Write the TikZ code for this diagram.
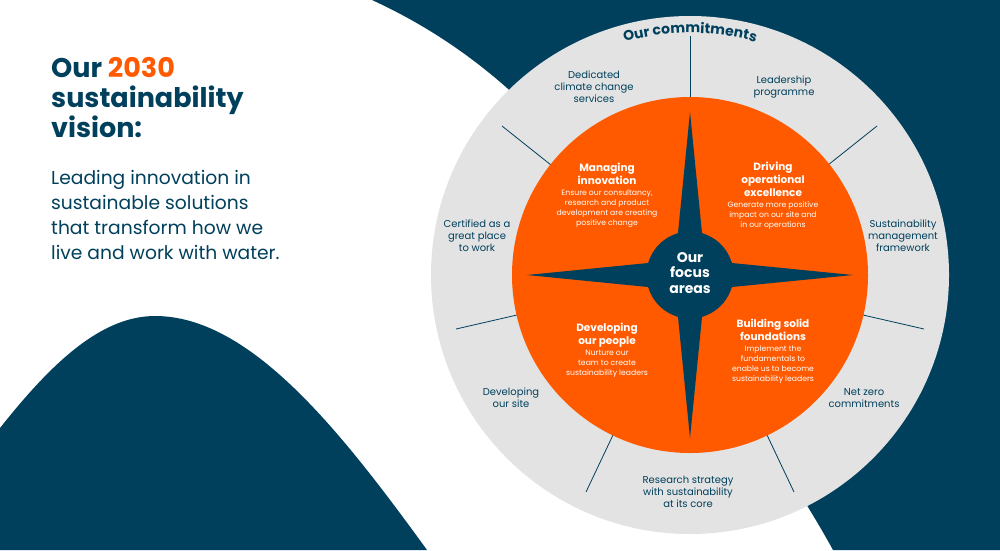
\documentclass[tikz,border=0pt]{standalone}
\usepackage{fontspec}
\setmainfont{Poppins}
\usetikzlibrary{decorations.text}
\definecolor{navy}{HTML}{00405C}
\definecolor{flame}{HTML}{FF5A00}
\definecolor{ring}{HTML}{E3E3E3}
\tikzset{
  ray/.style={draw=navy,line width=0.8pt},
  commit/.style={text=navy,font=\fontsize{10}{12.2}\selectfont,align=center,inner sep=0pt},
  areahead/.style={text=white,font=\fontsize{10.5}{13}\selectfont\bfseries,align=center,inner sep=0pt},
  areabody/.style={text=white,font=\fontsize{7.7}{10}\selectfont,align=center,inner sep=0pt},
}
\begin{document}
\begin{tikzpicture}[x=1pt,y=-1pt]
\useasboundingbox (0,0) rectangle (1000,550);
\fill[white] (0,0) rectangle (1000,550);
% dark backgrounds
\fill[navy] (372,0) .. controls (470,45) and (560,120) .. (640,250) .. controls (700,350) and (785,462) .. (833,550) -- (1000,550) -- (1000,0) -- cycle;
\fill[navy] (0,428) .. controls (50,365) and (100,316) .. (155,316) .. controls (250,316) and (340,430) .. (427,550) -- (0,550) -- cycle;
% rings
\fill[ring] (690,275) circle (259);
\coordinate (c) at (690,275);
\foreach \n/\x/\y in {a/690/97,b/551/165,d/828/165,e/863/315,f/517/315,g/767/435,h/613/435}{\coordinate (in\n) at (\x,\y);}
\foreach \n/\x/\y in {a/690/36,b/502/126,d/877/126,e/924/329,f/456/329,g/794/492,h/586/492}{\coordinate (out\n) at (\x,\y);}
\foreach \n in {a,b,d,e,f,g,h}{\draw[ray] (in\n) -- (out\n);}
\fill[flame] (c) circle (178);
% compass star
\fill[navy] (690,112) -- (702,233) -- (732,263) -- (853,275) -- (732,287) -- (702,317) -- (690,438) -- (678,317) -- (648,287) -- (527,275) -- (648,263) -- (678,233) -- cycle;
\fill[navy] (c) circle (43.5);
% curved heading
\path[decorate,decoration={text along path,text align=center,text={|\fontsize{14}{14}\selectfont\bfseries\color{navy}|Our commitments}}]
  (690,275) ++(-115:242) arc[start angle=-115,end angle=-65,radius=242];
% left heading
\node[anchor=north west,inner sep=0pt,text=navy,align=left,font=\fontsize{27}{30}\selectfont\bfseries] (title) at (51,57) {Our \textcolor{flame}{2030}\\sustainability\\vision:};
\node[anchor=north west,inner sep=0pt,text=navy,align=left,font=\fontsize{18.7}{25}\selectfont] (lead) at (51,170) {Leading innovation in\\sustainable solutions\\that transform how we\\live and work with water.};
% commitments
\node[commit] (c1) at (594,87) {Dedicated\\climate change\\services};
\node[commit] (c2) at (784,87) {Leadership\\programme};
\node[commit] (c3) at (903,236) {Sustainability\\management\\framework};
\node[commit] (c4) at (477,236) {Certified as a\\great place\\to work};
\node[commit] (c5) at (511,398) {Developing\\our site};
\node[commit] (c6) at (864,398) {Net zero\\commitments};
\node[commit] (c7) at (688,492) {Research strategy\\with sustainability\\at its core};
% focus areas
\node[areahead] (h1) at (607,174) {Managing\\innovation};
\node[areabody] (b1) at (607,209) {Ensure our consultancy,\\research and product\\development are creating\\positive change};
\node[areahead] (h2) at (773,179) {Driving\\operational\\excellence};
\node[areabody] (b2) at (773,216) {Generate more positive\\impact on our site and\\in our operations};
\node[areahead] (h3) at (607,335) {Developing\\our people};
\node[areabody] (b3) at (607,364) {Nurture our\\team to create\\sustainability leaders};
\node[areahead] (h4) at (773,330) {Building solid\\foundations};
\node[areabody] (b4) at (773,365) {Implement the\\fundamentals to\\enable us to become\\sustainability leaders};
\node[text=white,font=\fontsize{14}{15.3}\selectfont\bfseries,align=center,inner sep=0pt] (core) at (690,273) {Our\\focus\\areas};
\end{tikzpicture}
\end{document}
